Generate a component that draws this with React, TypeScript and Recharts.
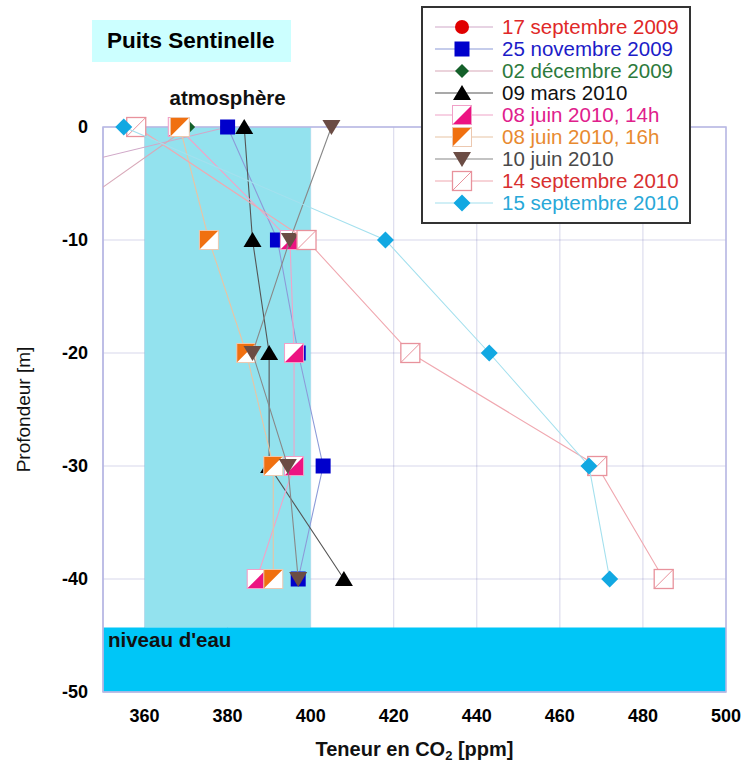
import React from 'react'
import {
  ScatterChart,
  Scatter,
  XAxis,
  YAxis,
  CartesianGrid,
  ReferenceArea,
  Legend,
} from 'recharts'

const FONT = '"Liberation Sans", Arial, Helvetica, sans-serif'

// depth levels (m) shared by every campaign
const depthLevels = [0, -10, -20, -30, -40]

// CO2 content (ppm) per campaign, one value per depth level
const sept17_2009 = [380, 268]
const nov25_2009 = [380, 392, 397, 403, 397]
const dec02_2009 = [370.5, 332]
const mar09_2010 = [384, 386, 390, 390, 408]
const jun08_14h = [368, 395, 396, 396, 387]
const jun08_16h = [368.5, 375.5, 384.5, 391, 391]
const jun10_2010 = [405, 395, 386, 394.5, 397]
const sep14_2010 = [358, 399, 424, 469, 485]
const sep15_2010 = [355, 418, 443, 467, 472]

const xDomain = [350, 500]
const xTicks = [360, 380, 400, 420, 440, 460, 480, 500]
const yTicks = [0, -10, -20, -30, -40, -50]

// atmosphere band and water level
const atmoRange = [360, 400]
const waterLevel = -44.3

type ShapeProps = { cx?: number; cy?: number }

const circle = (fill: string) => ({ cx = 0, cy = 0 }: ShapeProps) => (
  <circle cx={cx} cy={cy} r={7} fill={fill} />
)

const square = (fill: string) => ({ cx = 0, cy = 0 }: ShapeProps) => (
  <rect x={cx - 7.5} y={cy - 7.5} width={15} height={15} fill={fill} />
)

const diamond = (fill: string, r: number) => ({ cx = 0, cy = 0 }: ShapeProps) => (
  <polygon
    points={`${cx},${cy - r} ${cx + r},${cy} ${cx},${cy + r} ${cx - r},${cy}`}
    fill={fill}
  />
)

const triUp = (fill: string) => ({ cx = 0, cy = 0 }: ShapeProps) => (
  <polygon points={`${cx},${cy - 8} ${cx + 9},${cy + 7} ${cx - 9},${cy + 7}`} fill={fill} />
)

const triDown = (fill: string) => ({ cx = 0, cy = 0 }: ShapeProps) => (
  <polygon points={`${cx - 9},${cy - 7} ${cx + 9},${cy - 7} ${cx},${cy + 8}`} fill={fill} />
)

// square split along the diagonal (top-left / bottom-right)
const halfSquare = (topLeft: string, bottomRight: string, stroke: string) =>
  ({ cx = 0, cy = 0 }: ShapeProps) => {
    const s = 9.5
    return (
      <g>
        <rect x={cx - s} y={cy - s} width={2 * s} height={2 * s} fill={bottomRight} />
        <polygon
          points={`${cx - s},${cy - s} ${cx + s},${cy - s} ${cx - s},${cy + s}`}
          fill={topLeft}
        />
        <rect x={cx - s} y={cy - s} width={2 * s} height={2 * s} fill="none" stroke={stroke} strokeWidth={1} />
      </g>
    )
  }

const openSquare = (stroke: string) => ({ cx = 0, cy = 0 }: ShapeProps) => {
  const s = 9.5
  return (
    <g>
      <rect x={cx - s} y={cy - s} width={2 * s} height={2 * s} fill="#fff" stroke={stroke} strokeWidth={1.3} />
      <line x1={cx - s} y1={cy + s} x2={cx + s} y2={cy - s} stroke={stroke} strokeWidth={1} />
    </g>
  )
}

const noMarker = () => <g />

const series = [
  { name: '17 septembre 2009', values: sept17_2009, line: '#d0a8c8', text: '#e02828', shape: circle('#e00000') },
  { name: '25 novembre 2009', values: nov25_2009, line: '#8c9ad8', text: '#1c1cc8', shape: square('#0000cc') },
  { name: '02 décembre 2009', values: dec02_2009, line: '#d8a8b8', text: '#2d7a3c', shape: diamond('#14602a', 7) },
  { name: '09 mars 2010', values: mar09_2010, line: '#555555', text: '#111111', shape: triUp('#000000') },
  { name: '08 juin 2010, 14h', values: jun08_14h, line: '#f0a4c8', text: '#e0208c', shape: halfSquare('#ffffff', '#ec1382', '#f0a0c8') },
  { name: '08 juin 2010, 16h', values: jun08_16h, line: '#e8c4a4', text: '#e88a30', shape: halfSquare('#f07010', '#ffffff', '#ecc8b0') },
  { name: '10 juin 2010', values: jun10_2010, line: '#888888', text: '#4a4a4a', shape: triDown('#6b4c44') },
  { name: '14 septembre 2010', values: sep14_2010, line: '#f0a8b0', text: '#d83030', shape: openSquare('#e8929c') },
  { name: '15 septembre 2010', values: sep15_2010, line: '#a4e0ee', text: '#28a8d8', shape: diamond('#12a8e2', 8.5) },
]

const toPoints = (values: number[]) =>
  values.map((ppm, i) => ({ ppm, depth: depthLevels[i] }))

const inRange = (p: { ppm: number }) => p.ppm >= xDomain[0] && p.ppm <= xDomain[1]

function LegendBox() {
  return (
    <div
      style={{
        width: 270,
        height: 218,
        boxSizing: 'border-box',
        border: '2px solid #333',
        background: '#fff',
        paddingTop: 8,
        fontFamily: FONT,
      }}
    >
      {series.map((s) => {
        const Shape = s.shape
        return (
          <div key={s.name} style={{ display: 'flex', alignItems: 'center', height: 22 }}>
            <svg width={74} height={22} style={{ display: 'block' }}>
              <line x1={12} x2={70} y1={11} y2={11} stroke={s.line} strokeWidth={1.2} />
              <Shape cx={39} cy={11} />
            </svg>
            <span style={{ marginLeft: 5, fontSize: 20.5, lineHeight: '22px', color: s.text, whiteSpace: 'nowrap' }}>
              {s.name}
            </span>
          </div>
        )
      })}
    </div>
  )
}

export default function App() {
  return (
    <div style={{ position: 'absolute', left: 0, top: 0, width: 744, height: 764, background: '#fff' }}>
      <div
        style={{
          position: 'absolute',
          left: 92,
          top: 20,
          width: 199,
          height: 42,
          background: '#ccffff',
          fontFamily: FONT,
          fontWeight: 'bold',
          fontSize: 22.5,
          lineHeight: '42px',
          paddingLeft: 15,
          boxSizing: 'border-box',
          zIndex: 2,
        }}
      >
        Puits Sentinelle
      </div>
      <ScatterChart width={744} height={764} margin={{ top: 127, right: 18, bottom: 0, left: 0 }}>
        <ReferenceArea
          x1={atmoRange[0]}
          x2={atmoRange[1]}
          y1={waterLevel}
          y2={0}
          fill="#93e2ee"
          fillOpacity={1}
          stroke="none"
          label={{
            value: 'atmosphère',
            position: 'top',
            offset: 22,
            fill: '#111',
            fontSize: 20.5,
            fontWeight: 'bold',
            fontFamily: FONT,
          }}
        />
        <ReferenceArea
          x1={xDomain[0]}
          x2={xDomain[1]}
          y1={-50}
          y2={waterLevel}
          fill="#00c6f7"
          fillOpacity={1}
          stroke="none"
          label={{
            value: "niveau d'eau",
            position: 'insideTopLeft',
            offset: 5,
            fill: '#111',
            fontSize: 20.5,
            fontWeight: 'bold',
            fontFamily: FONT,
          }}
        />
        <CartesianGrid stroke="#6060b0" strokeOpacity={0.25} vertical horizontal />
        <XAxis
          type="number"
          dataKey="ppm"
          domain={xDomain}
          ticks={xTicks}
          height={72}
          tickLine={false}
          tickSize={0}
          tickMargin={17}
          axisLine={{ stroke: '#b8b8e4' }}
          tick={{ fill: '#000', fontSize: 18, fontWeight: 'bold', fontFamily: FONT }}
          label={{
            content: ({ viewBox }: any) => (
              <text
                x={viewBox.x + viewBox.width / 2}
                y={viewBox.y + 64}
                textAnchor="middle"
                fontFamily={FONT}
                fontWeight="bold"
                fontSize={20}
                fill="#111"
              >
                <tspan>Teneur en CO</tspan>
                <tspan dy={4} fontSize={13}>2</tspan>
                <tspan dy={-4}> [ppm]</tspan>
              </text>
            ),
          }}
        />
        {/* hidden twin axis for lines that run past the left edge (clipped) */}
        <XAxis xAxisId="overflow" type="number" dataKey="ppm" domain={xDomain} allowDataOverflow hide />
        <YAxis
          type="number"
          dataKey="depth"
          domain={[-50, 0]}
          ticks={yTicks}
          width={103}
          tickLine={false}
          tickSize={0}
          tickMargin={15}
          axisLine={{ stroke: '#b8b8e4' }}
          tick={{ fill: '#000', fontSize: 18, fontWeight: 'bold', fontFamily: FONT }}
          label={{
            content: ({ viewBox }: any) => (
              <text
                x={30}
                y={viewBox.y + viewBox.height / 2}
                transform={`rotate(-90, 30, ${viewBox.y + viewBox.height / 2})`}
                textAnchor="middle"
                fontFamily={FONT}
                fontSize={19}
                fill="#111"
              >
                Profondeur [m]
              </text>
            ),
          }}
        />
        <ReferenceArea x1={xDomain[0]} x2={xDomain[1]} y1={-50} y2={0} fill="none" stroke="#b8b8e4" strokeWidth={1.5} />
        {series.map((s) => {
          const pts = toPoints(s.values)
          const overflow = !pts.every(inRange)
          return (
            <React.Fragment key={s.name}>
              {overflow && (
                <Scatter
                  xAxisId="overflow"
                  data={pts}
                  line={{ stroke: s.line, strokeWidth: 1.1 }}
                  shape={noMarker as any}
                  legendType="none"
                  isAnimationActive={false}
                />
              )}
              <Scatter
                name={s.name}
                data={pts.filter(inRange)}
                line={overflow ? false : { stroke: s.line, strokeWidth: 1.1 }}
                shape={s.shape as any}
                isAnimationActive={false}
              />
            </React.Fragment>
          )
        })}
        <Legend
          layout="horizontal"
          verticalAlign="middle"
          align="center"
          content={() => <LegendBox />}
          wrapperStyle={{ left: 421, top: 6, width: 270, height: 218 }}
        />
      </ScatterChart>
    </div>
  )
}
